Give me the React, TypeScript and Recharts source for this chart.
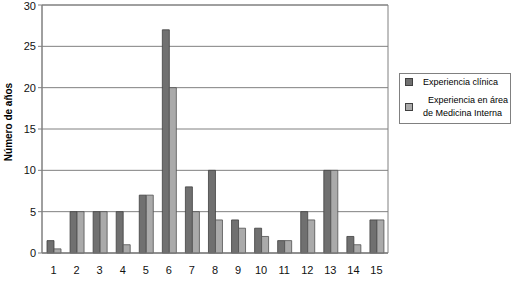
import React from 'react';
import { BarChart, Bar, XAxis, YAxis, CartesianGrid, ReferenceArea } from 'recharts';

const categories = ['1', '2', '3', '4', '5', '6', '7', '8', '9', '10', '11', '12', '13', '14', '15'];
const clinica = [1.5, 5, 5, 5, 7, 27, 8, 10, 4, 3, 1.5, 5, 10, 2, 4];
const medicinaInterna = [0.5, 5, 5, 1, 7, 20, 5, 4, 3, 2, 1.5, 4, 10, 1, 4];
const yTicks = [0, 5, 10, 15, 20, 25, 30];

const DARK = '#707070';
const LIGHT = '#aaaaaa';
const FONT = '"Liberation Sans", Arial, sans-serif';

const data = categories.map((c, i) => ({
  name: c,
  clinica: clinica[i],
  interna: medicinaInterna[i],
}));

const swatch = (color: string) => (
  <span
    style={{
      display: 'inline-block',
      width: 6,
      height: 6,
      background: color,
      border: '1px solid #404040',
      marginRight: 10,
      flex: 'none',
    }}
  />
);

const LegendBox: React.FC = () => (
  <div
    style={{
      position: 'absolute',
      left: 399,
      top: 73,
      width: 112,
      height: 51,
      border: '1px solid #808080',
      background: '#fff',
      fontFamily: FONT,
      fontSize: 9,
      color: '#000',
      boxSizing: 'border-box',
      whiteSpace: 'nowrap',
    }}
  >
    <div style={{ position: 'absolute', left: 5, top: 3, display: 'flex', alignItems: 'center' }}>
      {swatch(DARK)}
      <span>Experiencia clínica</span>
    </div>
    <div style={{ position: 'absolute', left: 5, top: 20, display: 'flex', alignItems: 'center' }}>
      {swatch(LIGHT)}
      <span style={{ lineHeight: '13px' }}>
        &nbsp;&nbsp;Experiencia en área
        <br />
        de Medicina Interna
      </span>
    </div>
  </div>
);

const YLabel = (props: any) => {
  const { viewBox } = props;
  const cy = viewBox.y + viewBox.height / 2 - 7;
  return (
    <text
      x={8}
      y={cy}
      transform={`rotate(-90 8 ${cy})`}
      textAnchor="middle"
      dominantBaseline="central"
      style={{ fontSize: 10, fontWeight: 'bold', fontFamily: FONT, fill: '#000' }}
    >
      Número de años
    </text>
  );
};

export default function App() {
  return (
    <div style={{ position: 'absolute', left: 0, top: 0, width: 512, height: 291, background: '#fff' }}>
      <BarChart
        width={512}
        height={291}
        data={data}
        margin={{ top: 5, right: 124, left: 0, bottom: 0 }}
        barGap={0}
        barSize={7}
      >
        <CartesianGrid vertical={false} stroke="#808080" />
        <XAxis
          dataKey="name"
          tickLine={false}
          axisLine={{ stroke: '#808080' }}
          tickMargin={7}
          height={38}
          interval={0}
          tick={{ fill: '#111', fontSize: 11, fontFamily: FONT }}
        />
        <YAxis
          domain={[0, 30]}
          ticks={yTicks}
          width={42}
          tickLine={{ stroke: '#808080' }}
          tickSize={4}
          axisLine={{ stroke: '#808080' }}
          tick={{ fill: '#111', fontSize: 11, fontFamily: FONT }}
          label={<YLabel />}
        />
        <ReferenceArea y1={0} y2={30} fill="none" stroke="#808080" strokeWidth={1} ifOverflow="visible" />
        <Bar dataKey="clinica" name="Experiencia clínica" fill={DARK} stroke="#404040" strokeWidth={0.8} isAnimationActive={false} />
        <Bar dataKey="interna" name="Experiencia en área de Medicina Interna" fill={LIGHT} stroke="#505050" strokeWidth={0.8} isAnimationActive={false} />
      </BarChart>
      <LegendBox />
    </div>
  );
}
